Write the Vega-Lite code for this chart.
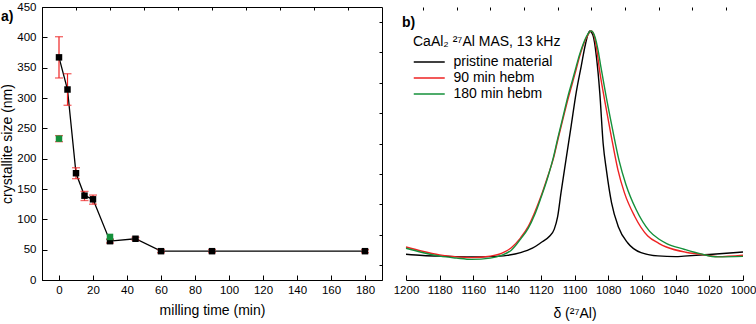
{
  "$schema": "https://vega.github.io/schema/vega-lite/v6.json",
  "padding": {"left": 0, "top": 0, "right": 0, "bottom": 0},
  "spacing": 10,
  "resolve": {"legend": {"color": "independent"}},
  "config": {
    "font": "Liberation Sans",
    "view": {"stroke": "black", "strokeWidth": 1},
    "axis": {"domainColor": "black", "tickColor": "black", "labelColor": "black", "titleColor": "black", "labelFontSize": 11.5, "titleFontSize": 14, "titleFontWeight": "normal", "grid": false, "tickWidth": 1, "domainWidth": 1, "labelFlush": false},
    "title": {"color": "black", "fontSize": 14, "fontWeight": "bold"}
  },
  "hconcat": [
    {
      "width": 340,
      "height": 273,
      "title": {"text": "a)", "anchor": "start", "frame": "group", "offset": -24, "dx": -41, "dy": 6, "baseline": "middle"},
      "data": {"values": [
        {"t": 0, "size": 367, "lo": 333, "hi": 401, "series": "a"},
        {"t": 5, "size": 314, "lo": 288, "hi": 340, "series": "a"},
        {"t": 10, "size": 176, "lo": 167, "hi": 185, "series": "a"},
        {"t": 15, "size": 139, "lo": 131, "hi": 146, "series": "a"},
        {"t": 20, "size": 133, "lo": 125, "hi": 140, "series": "a"},
        {"t": 30, "size": 64, "lo": 61, "hi": 67, "series": "a"},
        {"t": 45, "size": 68, "lo": 65.5, "hi": 70.5, "series": "a"},
        {"t": 60, "size": 47.5, "lo": 45, "hi": 50, "series": "a"},
        {"t": 90, "size": 47.5, "lo": 45, "hi": 50, "series": "a"},
        {"t": 180, "size": 47.5, "lo": 45, "hi": 50, "series": "a"},
        {"t": 0, "size": 233, "lo": 228, "hi": 238, "series": "b"},
        {"t": 30, "size": 71, "lo": null, "hi": null, "series": "b"}
      ]},
      "layer": [
        {
          "transform": [{"filter": "datum.series === 'a'"}],
          "mark": {"type": "line", "color": "black", "strokeWidth": 1.3},
          "encoding": {
            "x": {"field": "t", "type": "quantitative", "scale": {"domain": [-10, 190], "nice": false, "zero": false},
                  "axis": {"values": [0, 20, 40, 60, 80, 100, 120, 140, 160, 180], "tickSize": -5, "labelPadding": 9, "title": "milling time (min)", "titlePadding": 8}},
            "y": {"field": "size", "type": "quantitative", "scale": {"domain": [0, 450], "nice": false, "zero": false},
                  "axis": {"values": [0, 50, 100, 150, 200, 250, 300, 350, 400, 450], "tickSize": -5, "labelPadding": 11, "title": "crystallite size (nm)", "titlePadding": 2}}
          }
        },
        {
          "transform": [{"filter": "isValid(datum.lo)"}],
          "mark": {"type": "rule", "color": "#ee2222", "strokeWidth": 1.2},
          "encoding": {
            "x": {"field": "t", "type": "quantitative",
                  "axis": {"values": [10, 30, 50, 70, 90, 110, 130, 150, 170], "tickSize": -3, "labels": false, "domain": false, "title": null}},
            "y": {"field": "lo", "type": "quantitative",
                  "axis": {"values": [25, 75, 125, 175, 225, 275, 325, 375, 425], "tickSize": -3, "labels": false, "domain": false, "title": null}},
            "y2": {"field": "hi"}
          }
        },
        {
          "transform": [{"filter": "isValid(datum.lo)"}],
          "mark": {"type": "tick", "orient": "horizontal", "color": "#ee2222", "size": 8, "thickness": 1.3},
          "encoding": {
            "x": {"field": "t", "type": "quantitative", "axis": null},
            "y": {"field": "lo", "type": "quantitative", "axis": null}
          }
        },
        {
          "transform": [{"filter": "isValid(datum.hi)"}],
          "mark": {"type": "tick", "orient": "horizontal", "color": "#ee2222", "size": 8, "thickness": 1.3},
          "encoding": {
            "x": {"field": "t", "type": "quantitative", "axis": null},
            "y": {"field": "hi", "type": "quantitative", "axis": null}
          }
        },
        {
          "transform": [{"filter": "datum.series === 'a'"}],
          "mark": {"type": "square", "color": "black", "size": 42, "opacity": 1},
          "encoding": {
            "x": {"field": "t", "type": "quantitative", "axis": null},
            "y": {"field": "size", "type": "quantitative", "axis": null}
          }
        },
        {
          "transform": [{"filter": "datum.series === 'b'"}],
          "mark": {"type": "square", "color": "#14903a", "size": 42, "opacity": 1},
          "encoding": {
            "x": {"field": "t", "type": "quantitative", "axis": null},
            "y": {"field": "size", "type": "quantitative", "axis": null}
          }
        }
      ],
      "resolve": {"axis": {"x": "independent", "y": "independent"}}
    },
    {
      "width": 337,
      "height": 273,
      "view": {"stroke": null},
      "title": {"text": "b)", "anchor": "start", "frame": "group", "offset": -24, "dx": -4, "dy": 6, "baseline": "middle"},
      "data": {"values": [
        {"d": 1200, "v": 0.104, "s": "pristine material"},
        {"d": 1190, "v": 0.099, "s": "pristine material"},
        {"d": 1180, "v": 0.096, "s": "pristine material"},
        {"d": 1170, "v": 0.094, "s": "pristine material"},
        {"d": 1160, "v": 0.093, "s": "pristine material"},
        {"d": 1150, "v": 0.094, "s": "pristine material"},
        {"d": 1140, "v": 0.099, "s": "pristine material"},
        {"d": 1132, "v": 0.110, "s": "pristine material"},
        {"d": 1125, "v": 0.128, "s": "pristine material"},
        {"d": 1120, "v": 0.150, "s": "pristine material"},
        {"d": 1115, "v": 0.175, "s": "pristine material"},
        {"d": 1112, "v": 0.205, "s": "pristine material"},
        {"d": 1110, "v": 0.255, "s": "pristine material"},
        {"d": 1108, "v": 0.352, "s": "pristine material"},
        {"d": 1105, "v": 0.487, "s": "pristine material"},
        {"d": 1102, "v": 0.620, "s": "pristine material"},
        {"d": 1099, "v": 0.755, "s": "pristine material"},
        {"d": 1096, "v": 0.862, "s": "pristine material"},
        {"d": 1093.5, "v": 0.950, "s": "pristine material"},
        {"d": 1091, "v": 1.003, "s": "pristine material"},
        {"d": 1089, "v": 0.985, "s": "pristine material"},
        {"d": 1087, "v": 0.900, "s": "pristine material"},
        {"d": 1085, "v": 0.755, "s": "pristine material"},
        {"d": 1083, "v": 0.550, "s": "pristine material"},
        {"d": 1081, "v": 0.440, "s": "pristine material"},
        {"d": 1078, "v": 0.311, "s": "pristine material"},
        {"d": 1074, "v": 0.215, "s": "pristine material"},
        {"d": 1068.5, "v": 0.150, "s": "pristine material"},
        {"d": 1060.5, "v": 0.110, "s": "pristine material"},
        {"d": 1050.5, "v": 0.097, "s": "pristine material"},
        {"d": 1040, "v": 0.094, "s": "pristine material"},
        {"d": 1035, "v": 0.096, "s": "pristine material"},
        {"d": 1020, "v": 0.103, "s": "pristine material"},
        {"d": 1000, "v": 0.113, "s": "pristine material"},
        {"d": 1200, "v": 0.133, "s": "90 min hebm"},
        {"d": 1191, "v": 0.117, "s": "90 min hebm"},
        {"d": 1180, "v": 0.101, "s": "90 min hebm"},
        {"d": 1170, "v": 0.093, "s": "90 min hebm"},
        {"d": 1161, "v": 0.090, "s": "90 min hebm"},
        {"d": 1150, "v": 0.096, "s": "90 min hebm"},
        {"d": 1143, "v": 0.108, "s": "90 min hebm"},
        {"d": 1137.5, "v": 0.130, "s": "90 min hebm"},
        {"d": 1132, "v": 0.170, "s": "90 min hebm"},
        {"d": 1127.5, "v": 0.215, "s": "90 min hebm"},
        {"d": 1123.7, "v": 0.271, "s": "90 min hebm"},
        {"d": 1120, "v": 0.335, "s": "90 min hebm"},
        {"d": 1115.8, "v": 0.419, "s": "90 min hebm"},
        {"d": 1112.5, "v": 0.490, "s": "90 min hebm"},
        {"d": 1109.8, "v": 0.567, "s": "90 min hebm"},
        {"d": 1106.8, "v": 0.650, "s": "90 min hebm"},
        {"d": 1103.9, "v": 0.728, "s": "90 min hebm"},
        {"d": 1101.3, "v": 0.792, "s": "90 min hebm"},
        {"d": 1099, "v": 0.849, "s": "90 min hebm"},
        {"d": 1097, "v": 0.900, "s": "90 min hebm"},
        {"d": 1095, "v": 0.943, "s": "90 min hebm"},
        {"d": 1093, "v": 0.975, "s": "90 min hebm"},
        {"d": 1090, "v": 1.003, "s": "90 min hebm"},
        {"d": 1088, "v": 0.975, "s": "90 min hebm"},
        {"d": 1086.5, "v": 0.915, "s": "90 min hebm"},
        {"d": 1085.2, "v": 0.849, "s": "90 min hebm"},
        {"d": 1082.2, "v": 0.728, "s": "90 min hebm"},
        {"d": 1078.2, "v": 0.580, "s": "90 min hebm"},
        {"d": 1074.3, "v": 0.446, "s": "90 min hebm"},
        {"d": 1070.4, "v": 0.352, "s": "90 min hebm"},
        {"d": 1064.4, "v": 0.258, "s": "90 min hebm"},
        {"d": 1056.5, "v": 0.177, "s": "90 min hebm"},
        {"d": 1050, "v": 0.148, "s": "90 min hebm"},
        {"d": 1045.5, "v": 0.133, "s": "90 min hebm"},
        {"d": 1034, "v": 0.112, "s": "90 min hebm"},
        {"d": 1025, "v": 0.104, "s": "90 min hebm"},
        {"d": 1015, "v": 0.094, "s": "90 min hebm"},
        {"d": 1000, "v": 0.100, "s": "90 min hebm"},
        {"d": 1200, "v": 0.128, "s": "180 min hebm"},
        {"d": 1191, "v": 0.112, "s": "180 min hebm"},
        {"d": 1180, "v": 0.096, "s": "180 min hebm"},
        {"d": 1170, "v": 0.088, "s": "180 min hebm"},
        {"d": 1161, "v": 0.083, "s": "180 min hebm"},
        {"d": 1150, "v": 0.088, "s": "180 min hebm"},
        {"d": 1143, "v": 0.100, "s": "180 min hebm"},
        {"d": 1137.5, "v": 0.120, "s": "180 min hebm"},
        {"d": 1132, "v": 0.165, "s": "180 min hebm"},
        {"d": 1127.5, "v": 0.208, "s": "180 min hebm"},
        {"d": 1123.7, "v": 0.262, "s": "180 min hebm"},
        {"d": 1120, "v": 0.330, "s": "180 min hebm"},
        {"d": 1115.8, "v": 0.415, "s": "180 min hebm"},
        {"d": 1112.5, "v": 0.495, "s": "180 min hebm"},
        {"d": 1109.8, "v": 0.575, "s": "180 min hebm"},
        {"d": 1106.8, "v": 0.658, "s": "180 min hebm"},
        {"d": 1103.9, "v": 0.740, "s": "180 min hebm"},
        {"d": 1101.3, "v": 0.803, "s": "180 min hebm"},
        {"d": 1099, "v": 0.860, "s": "180 min hebm"},
        {"d": 1097, "v": 0.908, "s": "180 min hebm"},
        {"d": 1095, "v": 0.948, "s": "180 min hebm"},
        {"d": 1093, "v": 0.980, "s": "180 min hebm"},
        {"d": 1090, "v": 1.003, "s": "180 min hebm"},
        {"d": 1087.8, "v": 0.978, "s": "180 min hebm"},
        {"d": 1086, "v": 0.925, "s": "180 min hebm"},
        {"d": 1084.5, "v": 0.865, "s": "180 min hebm"},
        {"d": 1081.5, "v": 0.750, "s": "180 min hebm"},
        {"d": 1077.5, "v": 0.610, "s": "180 min hebm"},
        {"d": 1073.5, "v": 0.480, "s": "180 min hebm"},
        {"d": 1069.5, "v": 0.385, "s": "180 min hebm"},
        {"d": 1063.5, "v": 0.285, "s": "180 min hebm"},
        {"d": 1055.5, "v": 0.197, "s": "180 min hebm"},
        {"d": 1050, "v": 0.165, "s": "180 min hebm"},
        {"d": 1045, "v": 0.146, "s": "180 min hebm"},
        {"d": 1035, "v": 0.124, "s": "180 min hebm"},
        {"d": 1025, "v": 0.105, "s": "180 min hebm"},
        {"d": 1015, "v": 0.093, "s": "180 min hebm"},
        {"d": 1000, "v": 0.095, "s": "180 min hebm"}
      ]},
      "encoding": {
        "color": {"field": "s", "type": "nominal",
                  "scale": {"domain": ["pristine material", "90 min hebm", "180 min hebm"], "range": ["#000000", "#ee2222", "#14903a"]},
                  "legend": {"orient": "none", "legendX": 7, "legendY": 27.5, "title": "CaAl₂ ²⁷Al MAS, 13 kHz", "titleFontSize": 14, "titleFontWeight": "normal", "titleColor": "black", "titlePadding": 5, "labelFontSize": 14, "labelColor": "black", "symbolType": "M-2,0H2", "symbolSize": 240, "symbolStrokeWidth": 1.5, "symbolOffset": 7.75, "labelOffset": 15.75, "rowPadding": 0}}
      },
      "layer": [
        {
          "transform": [{"filter": "datum.s === 'pristine material'"}],
          "mark": {"type": "line", "strokeWidth": 1.4, "interpolate": "monotone"},
          "encoding": {
            "x": {"field": "d", "type": "quantitative", "scale": {"domain": [1000, 1200], "reverse": true, "nice": false, "zero": false},
                  "axis": {"values": [1000, 1020, 1040, 1060, 1080, 1100, 1120, 1140, 1160, 1180, 1200], "format": "d", "tickSize": -5, "labelPadding": 9, "title": "δ (²⁷Al)", "titlePadding": 11}},
            "y": {"field": "v", "type": "quantitative", "scale": {"domain": [0, 1.1], "nice": false, "zero": false}, "axis": null}
          }
        },
        {
          "transform": [{"filter": "datum.s === '90 min hebm'"}],
          "mark": {"type": "line", "strokeWidth": 1.4, "interpolate": "monotone"},
          "encoding": {
            "x": {"field": "d", "type": "quantitative",
                  "axis": {"values": [1010, 1030, 1050, 1070, 1090, 1110, 1130, 1150, 1170, 1190], "tickSize": -3, "labels": false, "domain": false, "title": null}},
            "y": {"field": "v", "type": "quantitative", "axis": null}
          }
        },
        {
          "transform": [{"filter": "datum.s === '180 min hebm'"}],
          "mark": {"type": "line", "strokeWidth": 1.4, "interpolate": "monotone"},
          "encoding": {
            "x": {"field": "d", "type": "quantitative", "axis": null},
            "y": {"field": "v", "type": "quantitative", "axis": null}
          }
        }
      ],
      "resolve": {"axis": {"x": "independent"}}
    }
  ]
}
